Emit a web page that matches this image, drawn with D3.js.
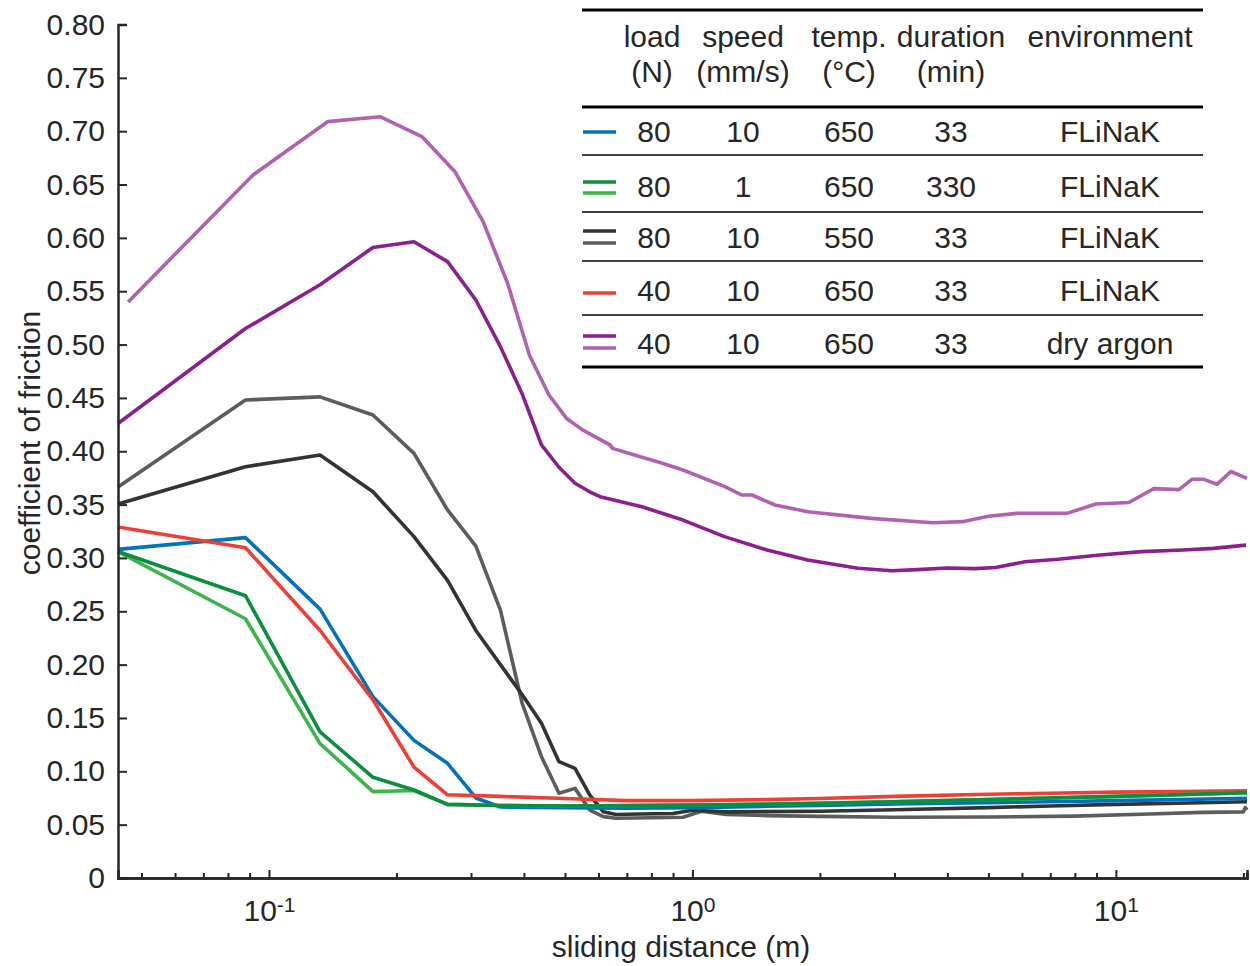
<!DOCTYPE html>
<html>
<head>
<meta charset="utf-8">
<script src="https://cdn.jsdelivr.net/npm/d3@7"></script>
<style>
  body { margin: 0; background: #fff; }
  text { font-family: 'Liberation Sans', Arial, sans-serif; fill: #262626; }
</style>
</head>
<body>
<div id="chart"></div>
<script>
// sliding distance (m) and coefficient of friction
const blueDist = [0.044, 0.088, 0.132, 0.176, 0.22, 0.264, 0.308, 0.352, 0.5, 0.7, 1.0, 1.5, 2, 3, 5, 7, 10, 14, 20.4];
const blueCof  = [0.308, 0.319, 0.252, 0.170, 0.129, 0.1075, 0.075, 0.0665, 0.0658, 0.0655, 0.066, 0.0672, 0.068, 0.0693, 0.0705, 0.0715, 0.0725, 0.0735, 0.0747];

const redDist = [0.044, 0.088, 0.132, 0.176, 0.22, 0.264, 0.352, 0.5, 0.7, 1.0, 1.5, 2, 3, 5, 7, 10, 14, 20.4];
const redCof  = [0.329, 0.3096, 0.232, 0.167, 0.104, 0.078, 0.0765, 0.0745, 0.0725, 0.0725, 0.0735, 0.0745, 0.0765, 0.0785, 0.0795, 0.0805, 0.081, 0.0818];

const greenDarkDist = [0.044, 0.088, 0.132, 0.176, 0.22, 0.264, 0.352, 0.5, 0.7, 1.0, 1.5, 2, 3, 5, 7, 10, 14, 20.4];
const greenDarkCof  = [0.306, 0.2646, 0.137, 0.0944, 0.0825, 0.069, 0.068, 0.0675, 0.0678, 0.0684, 0.069, 0.070, 0.0715, 0.0735, 0.075, 0.0765, 0.078, 0.080];

const greenLightDist = [0.044, 0.088, 0.132, 0.176, 0.22, 0.264, 0.352, 0.5, 0.7, 1.0, 2, 5, 10, 20.4];
const greenLightCof  = [0.306, 0.243, 0.126, 0.081, 0.082, 0.069, 0.068, 0.0675, 0.0678, 0.0684, 0.070, 0.0735, 0.0765, 0.080];

const grayDarkDist = [0.044, 0.088, 0.132, 0.176, 0.22, 0.264, 0.308, 0.352, 0.396, 0.44, 0.484, 0.528, 0.572, 0.616, 0.66, 0.75, 0.9, 1.0, 1.2, 2, 3, 5, 7, 10, 14, 20.4];
const grayDarkCof  = [0.3505, 0.3855, 0.3965, 0.362, 0.32, 0.279, 0.232, 0.2, 0.172, 0.145, 0.109, 0.1028, 0.078, 0.062, 0.0595, 0.060, 0.0605, 0.0635, 0.062, 0.0625, 0.064, 0.066, 0.0675, 0.069, 0.070, 0.0715];

const grayMidDist = [0.044, 0.088, 0.132, 0.176, 0.22, 0.264, 0.308, 0.352, 0.396, 0.44, 0.484, 0.528, 0.572, 0.616, 0.66, 0.8, 0.95, 1.05, 1.2, 1.5, 2, 3, 5, 8, 12, 16, 20, 20.2, 20.4];
const grayMidCof  = [0.3665, 0.448, 0.451, 0.434, 0.398, 0.345, 0.311, 0.251, 0.164, 0.1137, 0.0794, 0.084, 0.0637, 0.0575, 0.056, 0.0565, 0.057, 0.0625, 0.0595, 0.0585, 0.0578, 0.057, 0.0572, 0.058, 0.060, 0.0615, 0.062, 0.066, 0.0637];

const purpleDarkDist = [0.044, 0.088, 0.132, 0.176, 0.22, 0.264, 0.308, 0.352, 0.396, 0.44, 0.484, 0.528, 0.572, 0.605, 0.76, 0.95, 1.19, 1.5, 1.87, 2.46, 2.96, 3.39, 4.0, 4.65, 5.2, 6.1, 7.3, 9.17, 11.5, 14.4, 17.0, 20.3];
const purpleDarkCof  = [0.426, 0.515, 0.556, 0.591, 0.5964, 0.5777, 0.5418, 0.498, 0.454, 0.406, 0.385, 0.370, 0.362, 0.3574, 0.348, 0.3355, 0.320, 0.3074, 0.298, 0.2903, 0.288, 0.289, 0.2905, 0.290, 0.291, 0.2965, 0.2987, 0.3027, 0.3059, 0.3074, 0.309, 0.312];

const purpleLightDist = [0.0465, 0.0917, 0.1378, 0.1829, 0.2297, 0.2749, 0.3206, 0.3664, 0.4122, 0.458, 0.5038, 0.55, 0.6387, 0.6475, 0.75, 0.8494, 0.9497, 1.193, 1.307, 1.382, 1.566, 1.874, 2.64, 3.698, 4.341, 5.0, 5.836, 7.661, 8.971, 10.73, 12.29, 14.09, 15.12, 16.14, 17.32, 18.69, 20.4];
const purpleLightCof  = [0.540, 0.659, 0.709, 0.7136, 0.695, 0.662, 0.615, 0.557, 0.490, 0.453, 0.431, 0.42, 0.406, 0.4027, 0.395, 0.3887, 0.3824, 0.3668, 0.359, 0.359, 0.3496, 0.3433, 0.3371, 0.333, 0.334, 0.339, 0.3418, 0.3418, 0.3505, 0.352, 0.365, 0.364, 0.3737, 0.3737, 0.369, 0.381, 0.3746];

// legend table
const headerTop = ['load', 'speed', 'temp.', 'duration', 'environment'];
const headerBottom = ['(N)', '(mm/s)', '(°C)', '(min)', ''];
const loads = ['80', '80', '80', '40', '40'];
const speeds = ['10', '1', '10', '10', '10'];
const temps = ['650', '650', '550', '650', '650'];
const durations = ['33', '330', '33', '33', '33'];
const environments = ['FLiNaK', 'FLiNaK', 'FLiNaK', 'FLiNaK', 'dry argon'];

const yTicks = [0, 0.05, 0.1, 0.15, 0.2, 0.25, 0.3, 0.35, 0.4, 0.45, 0.5, 0.55, 0.6, 0.65, 0.7, 0.75, 0.8];
const xMajor = [0.1, 1, 10];
const xMinor = [0.05, 0.06, 0.07, 0.08, 0.09, 0.2, 0.3, 0.4, 0.5, 0.6, 0.7, 0.8, 0.9, 2, 3, 4, 5, 6, 7, 8, 9, 20];

const colors = {
  blue: '#0072bd', red: '#ee3e36', greenDark: '#0b8f3e', greenLight: '#3db54a',
  grayDark: '#333333', grayMid: '#5c5c5c', purpleDark: '#8b1f8d', purpleLight: '#b062b0'
};

const series = [
  { dist: grayMidDist, cof: grayMidCof, color: colors.grayMid },
  { dist: grayDarkDist, cof: grayDarkCof, color: colors.grayDark },
  { dist: purpleLightDist, cof: purpleLightCof, color: colors.purpleLight },
  { dist: purpleDarkDist, cof: purpleDarkCof, color: colors.purpleDark },
  { dist: blueDist, cof: blueCof, color: colors.blue },
  { dist: redDist, cof: redCof, color: colors.red },
  { dist: greenLightDist, cof: greenLightCof, color: colors.greenLight },
  { dist: greenDarkDist, cof: greenDarkCof, color: colors.greenDark }
];

// legend swatches for each row (one or two lines, offsets from row centre)
const swatches = [
  [[colors.blue, 1]],
  [[colors.greenDark, -4], [colors.greenLight, 7]],
  [[colors.grayDark, -6], [colors.grayMid, 6]],
  [[colors.red, 3]],
  [[colors.purpleDark, -7], [colors.purpleLight, 5]]
];

const W = 1250, H = 966;
const plotLeft = 118, plotRight = 1247, plotTop = 24.5, plotBottom = 878;

const svg = d3.select('#chart').append('svg')
  .attr('width', W).attr('height', H);

const x = d3.scaleLog().domain([0.044, 20.4]).range([plotLeft, plotRight]);
const y = d3.scaleLinear().domain([0, 0.8]).range([plotBottom, plotTop]);

// data lines
const line = d3.line().x(d => x(d[0])).y(d => y(d[1]));
svg.append('g').selectAll('path')
  .data(series)
  .join('path')
  .attr('d', s => line(s.dist.map((d, i) => [d, s.cof[i]])))
  .attr('fill', 'none')
  .attr('stroke', s => s.color)
  .attr('stroke-width', 3.6)
  .attr('stroke-linejoin', 'round');

// y axis, ticks inside
const yAxis = svg.append('g')
  .attr('transform', `translate(${plotLeft},0)`)
  .call(d3.axisLeft(y).tickValues(yTicks).tickSize(-9).tickPadding(13)
    .tickFormat(d => d === 0 ? '0' : d.toFixed(2)));
yAxis.selectAll('text').style('font-size', '30px').attr('fill', '#262626');

// x axis, minor ticks
const xMinorAxis = svg.append('g')
  .attr('transform', `translate(0,${plotBottom})`)
  .call(d3.axisBottom(x).tickValues(xMinor).tickSize(-5).tickFormat(''));

// x axis, major ticks
const xAxis = svg.append('g')
  .attr('transform', `translate(0,${plotBottom})`)
  .call(d3.axisBottom(x).tickValues(xMajor).tickSize(-8).tickPadding(22).tickFormat(''));

xAxis.selectAll('.tick text').each(function(d) {
  const t = d3.select(this).style('font-size', '30px').attr('fill', '#262626');
  t.append('tspan').text('10');
  t.append('tspan').text(Math.round(Math.log10(d)))
    .attr('dy', '-0.45em').style('font-size', '21px');
});

[yAxis, xAxis, xMinorAxis].forEach(a => {
  a.select('.domain').attr('stroke', '#262626').attr('stroke-width', 2.5);
  a.selectAll('.tick line').attr('stroke', '#262626').attr('stroke-width', 2);
});

// axis titles
svg.append('text')
  .attr('x', 681).attr('y', 957)
  .attr('text-anchor', 'middle')
  .style('font-size', '30px')
  .text('sliding distance (m)');

svg.append('text')
  .attr('transform', 'translate(40,443) rotate(-90)')
  .attr('text-anchor', 'middle')
  .style('font-size', '30px')
  .text('coefficient of friction');

// legend table
const colX = [652, 743, 849, 951, 1110];
const rowY = [131, 186, 237, 290, 343];
const ruleX0 = 582, ruleX1 = 1203;
const leg = svg.append('g');

[10, 107, 367].forEach(yy => leg.append('line')
  .attr('x1', ruleX0).attr('x2', ruleX1).attr('y1', yy).attr('y2', yy)
  .attr('stroke', '#000').attr('stroke-width', 3));
[155, 212, 261, 315].forEach(yy => leg.append('line')
  .attr('x1', ruleX0).attr('x2', ruleX1).attr('y1', yy).attr('y2', yy)
  .attr('stroke', '#000').attr('stroke-width', 1.5));

headerTop.forEach((h, i) => leg.append('text')
  .attr('x', colX[i]).attr('y', 47).attr('text-anchor', 'middle')
  .style('font-size', '30px').text(h));
headerBottom.forEach((h, i) => leg.append('text')
  .attr('x', colX[i]).attr('y', 82).attr('text-anchor', 'middle')
  .style('font-size', '30px').text(h));

const cols = [loads, speeds, temps, durations, environments];
rowY.forEach((ry, r) => {
  cols.forEach((c, i) => leg.append('text')
    .attr('x', colX[i] + (i === 0 ? 2 : 0)).attr('y', ry + 11)
    .attr('text-anchor', 'middle')
    .style('font-size', '30px').text(c[r]));
  swatches[r].forEach(([col, dy]) => {
    leg.append('line')
      .attr('x1', 583).attr('x2', 616).attr('y1', ry + dy).attr('y2', ry + dy)
      .attr('stroke', col).attr('stroke-width', 3.6);
  });
});
</script>
</body>
</html>
